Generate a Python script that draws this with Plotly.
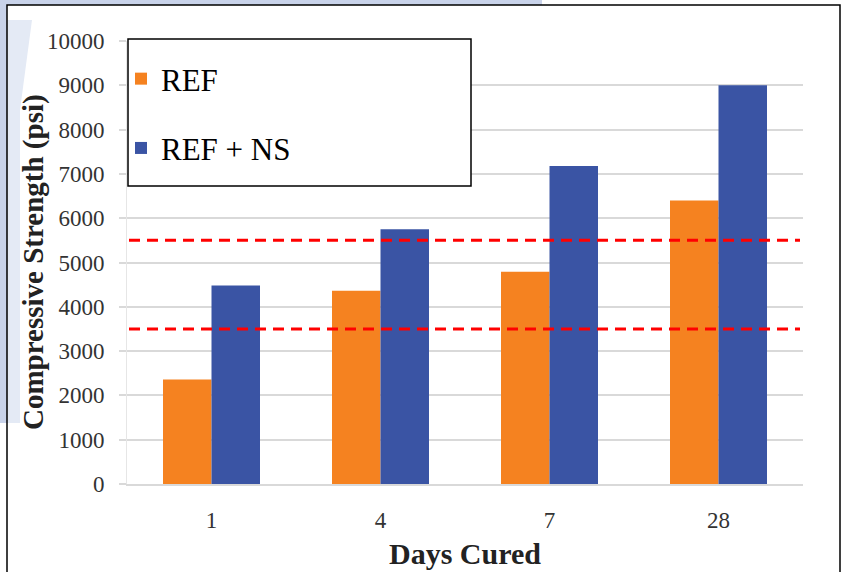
import plotly.graph_objects as go

# ---- data ----
days = ["1", "4", "7", "28"]
ref = [2360, 4360, 4790, 6400]
ref_ns = [4480, 5750, 7180, 9000]
limit_lines = [5500, 3500]
series_names = ["REF", "REF + NS"]
y_title = "<b>Compressive Strength (psi)</b>"
x_title = "<b>Days Cured</b>"

# ---- layout geometry (pixels) ----
W, H = 842, 572
ML, MR, MT, MB = 127, 39, 41, 88
PW, PH = W - ML - MR, H - MT - MB


def px(x):
    return (x - ML) / PW


def py(y):
    return 1 - (y - MT) / PH


ORANGE = "#F58220"
BLUE = "#3A54A4"
FONT = "Liberation Serif, Times New Roman, serif"

fig = go.Figure()
fig.add_trace(go.Bar(x=days, y=ref, name=series_names[0], marker_color=ORANGE,
                     marker_line_width=0, legendgroup="a"))
fig.add_trace(go.Bar(x=days, y=ref_ns, name=series_names[1], marker_color=BLUE,
                     marker_line_width=0, legendgroup="b"))

shapes = []
# watermark-like light blue strips outside the frame
shapes.append(dict(type="rect", xref="paper", yref="paper", layer="below",
                   x0=px(0), x1=px(542), y0=py(0), y1=py(5),
                   fillcolor="#C9D3EA", line_width=0))
shapes.append(dict(type="rect", xref="paper", yref="paper", layer="below",
                   x0=px(0), x1=px(7), y0=py(0), y1=py(423),
                   fillcolor="#C9D3EA", line_width=0))
# faint watermark inside frame
shapes.append(dict(type="path", xref="paper", yref="paper", layer="below",
                   path=f"M {px(7)},{py(20)} L {px(32)},{py(20)} L {px(20)},{py(110)} "
                        f"L {px(20)},{py(423)} L {px(7)},{py(423)} Z",
                   fillcolor="#E4EAF5", line_width=0))
# outer frame
shapes.append(dict(type="rect", xref="paper", yref="paper", layer="below",
                   x0=px(7), x1=px(840), y0=py(578), y1=py(5),
                   fillcolor="rgba(0,0,0,0)", line=dict(color="black", width=1.5)))
# legend box
shapes.append(dict(type="rect", xref="paper", yref="paper", layer="above",
                   x0=px(128), x1=px(471), y0=py(186), y1=py(39),
                   fillcolor="white", line=dict(color="black", width=1.5)))
# red dashed limit lines
for v in limit_lines:
    shapes.append(dict(type="line", xref="paper", yref="y", layer="above",
                       x0=px(129), x1=px(800), y0=v, y1=v,
                       line=dict(color="#FF0000", width=3, dash="11px,7px")))

annotations = [
    dict(text=y_title, xref="paper", yref="paper", x=px(33), y=py(262),
         xanchor="center", yanchor="middle", textangle=-90, showarrow=False,
         font=dict(family=FONT, size=29, color="#222222")),
    dict(text=x_title, xref="paper", yref="paper", x=px(465), y=py(553),
         xanchor="center", yanchor="middle", showarrow=False,
         font=dict(family=FONT, size=30, color="#222222")),
]

fig.update_layout(
    width=W, height=H,
    margin=dict(l=ML, r=MR, t=MT, b=MB, autoexpand=False),
    paper_bgcolor="white", plot_bgcolor="rgba(0,0,0,0)",
    barmode="group", bargap=0.426, bargroupgap=0,
    font=dict(family=FONT, color="#333333"),
    shapes=shapes, annotations=annotations,
    showlegend=True,
    legend=dict(x=px(121), y=py(52), xanchor="left", yanchor="top",
                bgcolor="rgba(0,0,0,0)", borderwidth=0,
                font=dict(family=FONT, size=31, color="black"),
                tracegroupgap=26, traceorder="grouped", itemwidth=30),
)

fig.update_xaxes(
    type="category", showgrid=False, showline=True, linecolor="#D9D9D9",
    linewidth=1.5, ticks="", ticklabelstandoff=15, automargin=False,
    tickfont=dict(family=FONT, size=23, color="#333333"),
)
fig.update_yaxes(
    range=[0, 10000], dtick=1000, tickformat="d", automargin=False,
    showgrid=True, gridcolor="#D9D9D9", gridwidth=1.5,
    showline=True, linecolor="#E6E6E6", linewidth=1,
    ticks="outside", ticklen=7, tickcolor="#D9D9D9", tickwidth=1.5,
    ticklabelstandoff=10, zeroline=False,
    tickfont=dict(family=FONT, size=23, color="#333333"),
)

fig.write_html("out.html")
